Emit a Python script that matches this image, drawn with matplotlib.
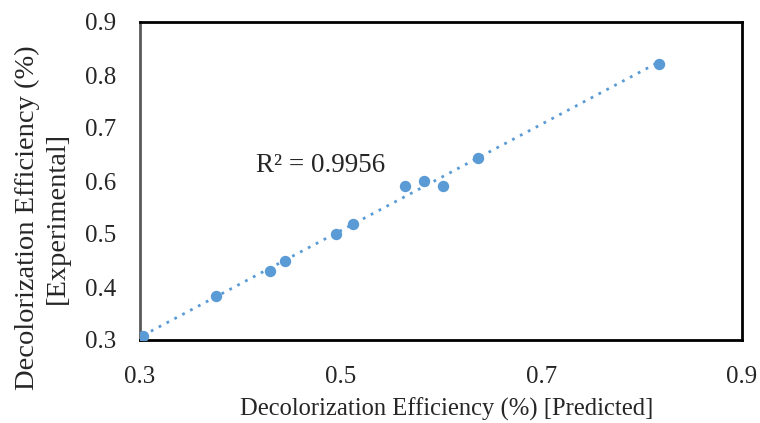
import matplotlib
matplotlib.use("Agg")
import matplotlib.pyplot as plt
import numpy as np

predicted = [0.303, 0.376, 0.430, 0.445, 0.495, 0.512, 0.564, 0.583, 0.602, 0.637, 0.817]
experimental = [0.307, 0.383, 0.430, 0.449, 0.500, 0.519, 0.591, 0.600, 0.591, 0.643, 0.821]
x_ticks = [0.3, 0.5, 0.7, 0.9]
y_ticks = [0.3, 0.4, 0.5, 0.6, 0.7, 0.8, 0.9]
r2_text = "R² = 0.9956"

plt.rcParams['font.family'] = ['Liberation Serif', 'DejaVu Serif']

fig = plt.figure(figsize=(7.6, 4.23), dpi=100)
ax = fig.add_axes([140/760, 83/423, 602/760, 318/423])

color = '#5B9BD5'
xs = np.array(predicted)
ys = np.array(experimental)
m, b = np.polyfit(xs, ys, 1)
xl = np.array([xs.min(), xs.max()])
ax.plot(xl, m*xl + b, linestyle=(0, (1, 2.2)), color=color, lw=2.0, zorder=2)
ax.plot(xs, ys, 'o', color=color, markersize=8.2, markeredgewidth=0, zorder=3)

ax.text(0.4157, 0.630, r2_text, fontsize=19.5, va='center', ha='left', color='#262626')

ax.set_xlim(0.3, 0.9)
ax.set_ylim(0.3, 0.9)
ax.set_xticks(x_ticks)
ax.set_yticks(y_ticks)
ax.set_xticklabels([f"{v:.1f}" for v in x_ticks])
ax.set_yticklabels([f"{v:.1f}" for v in y_ticks])
ax.tick_params(axis='both', length=0, labelsize=18, colors='#262626')
ax.tick_params(axis='x', pad=19)
ax.tick_params(axis='y', pad=17)

for s in ['top', 'right', 'bottom']:
    ax.spines[s].set_color('black')
    ax.spines[s].set_linewidth(2.0)
ax.spines['left'].set_color('#595959')
ax.spines['left'].set_linewidth(2.0)

fig.text(447/760, (423-409)/423, "Decolorization Efficiency (%) [Predicted]",
         fontsize=17.7, color='#262626', ha='center', va='center')
fig.text(42/760, (423-218)/423, "Decolorization Efficiency (%)\n[Experimental]",
         fontsize=20.5, color='#262626', ha='center', va='center', rotation=90,
         linespacing=1.25, multialignment='center')

fig.savefig("out.png", dpi=100)
